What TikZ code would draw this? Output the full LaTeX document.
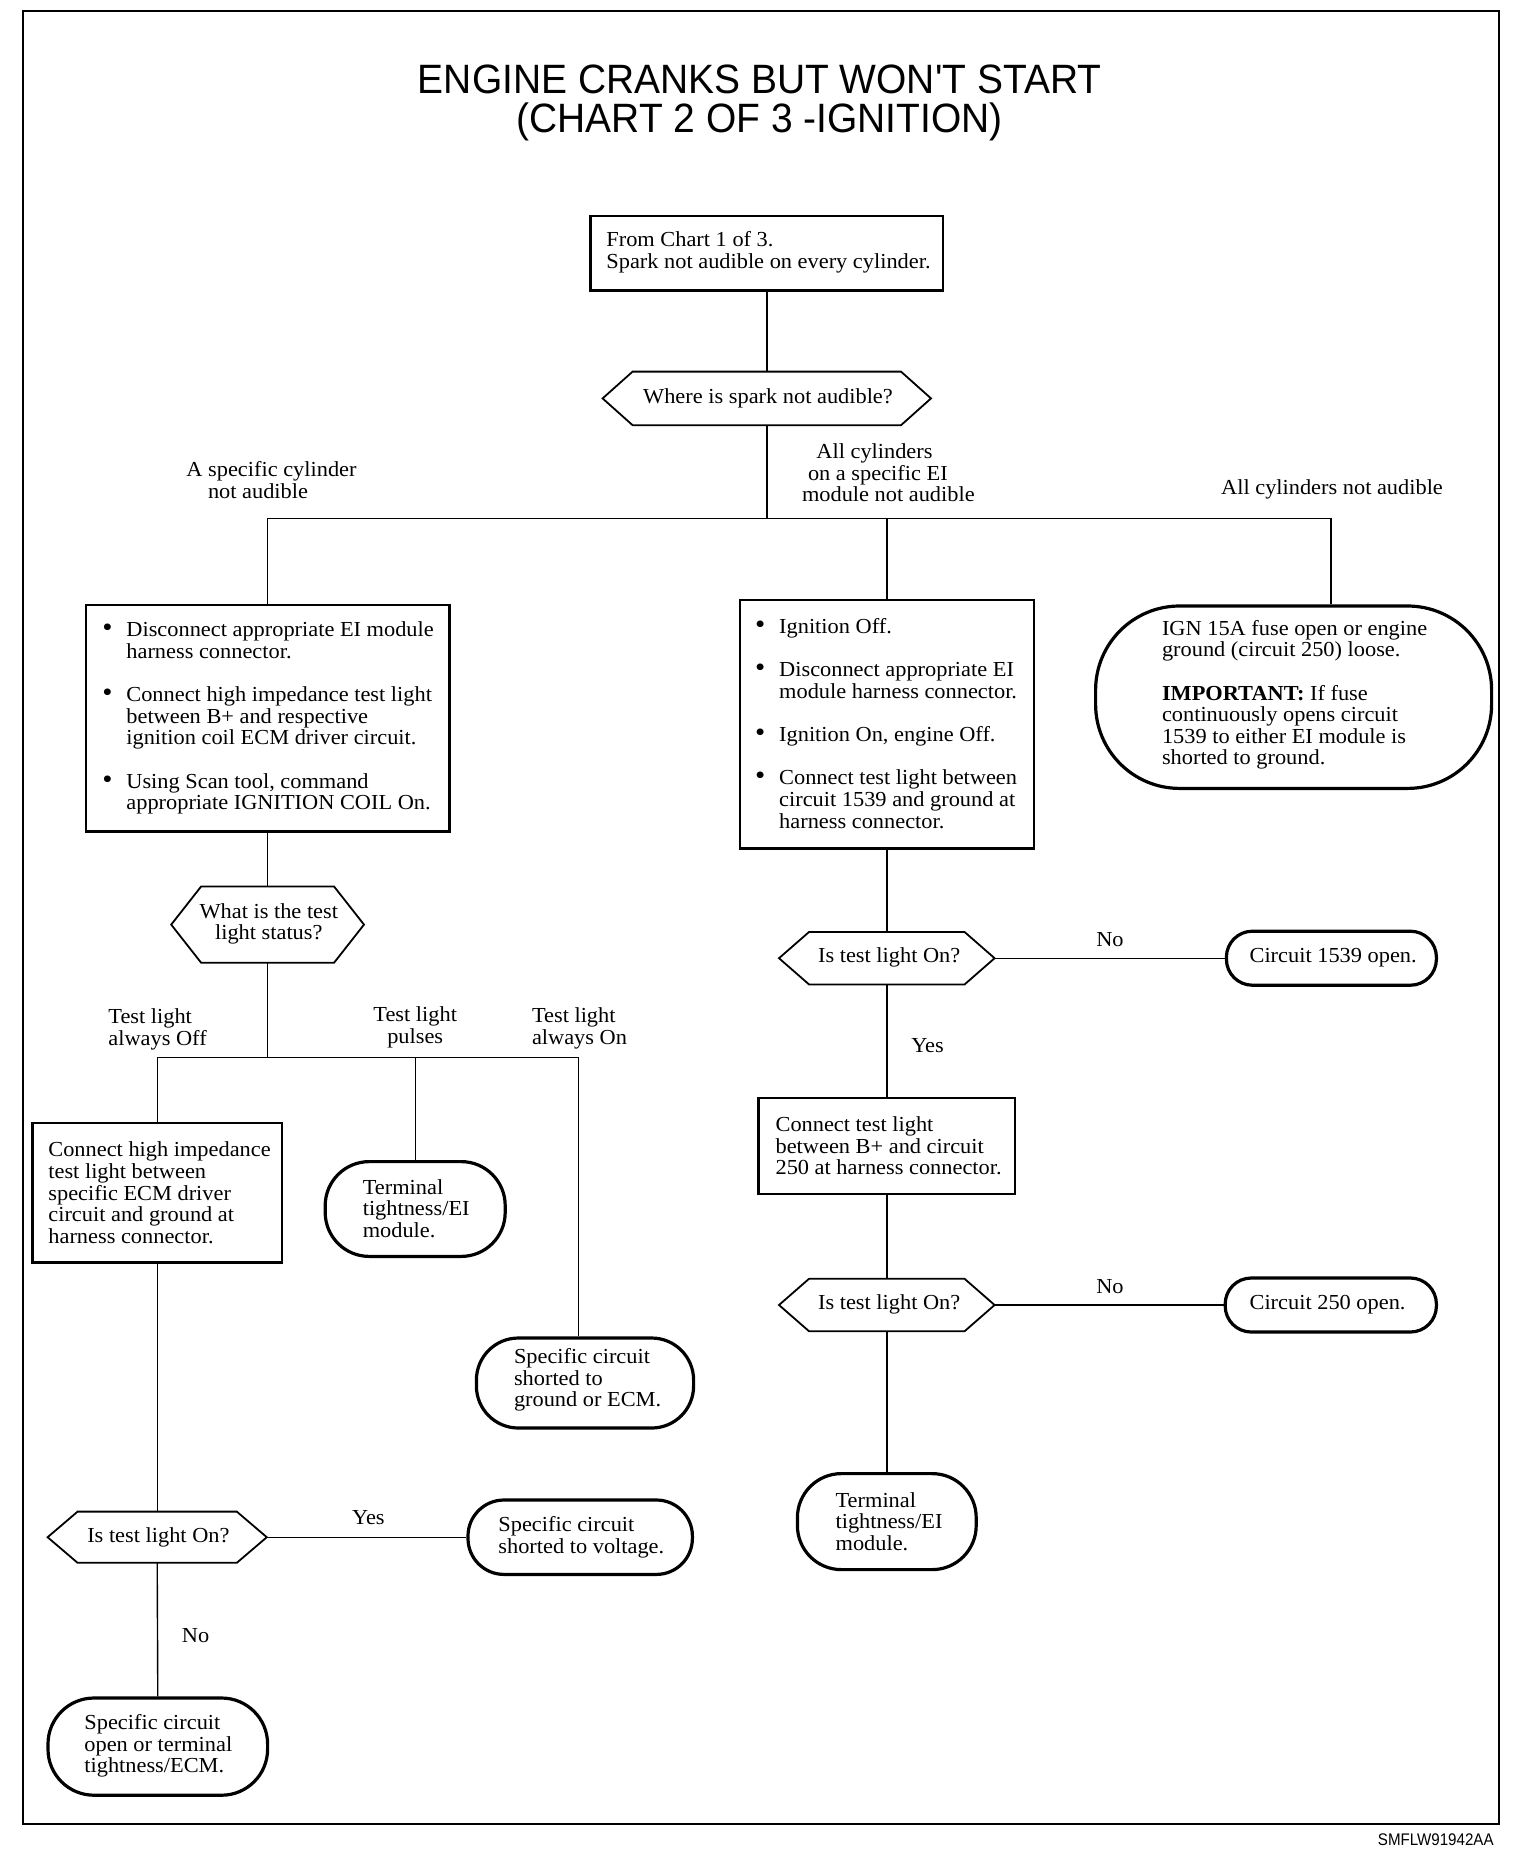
\documentclass[tikz,border=0pt]{standalone}
\usepackage{fontspec}
\setmainfont[FakeStretch=1.045]{Liberation Serif}
\newfontfamily\titlefont[FakeStretch=0.95]{Liberation Sans}
\newfontfamily\codefont[FakeStretch=0.9]{Liberation Sans}
\usetikzlibrary{calc}
\newcommand\bodyfont{\fontsize{10.7pt}{10.8pt}\selectfont}
\newcommand\bul{\makebox[12pt][l]{\scalebox{1.3}{\textbullet}}}
\newcommand\ind{\hspace*{12pt}}
\newcommand\hexdraw[2]{\draw[hexline] (#1.west) -- ([xshift=#2]#1.north west) -- ([xshift=-#2]#1.north east) -- (#1.east) -- ([xshift=-#2]#1.south east) -- ([xshift=#2]#1.south west) -- cycle;}
\tikzset{
 wh/.style 2 args={minimum width=#1*0.6pt, minimum height=#2*0.6pt},
 box/.style={draw, rectangle, line width=1.2pt, inner sep=0pt},
 term/.style={draw, rectangle, line width=1.6pt, inner sep=0pt, rounded corners=#1},
 hexbox/.style={rectangle, inner sep=0pt, draw=none},
 txt/.style={inner sep=0pt, align=left, font=\bodyfont, anchor=west},
 ctxt/.style={inner sep=0pt, align=center, font=\bodyfont},
 conn/.style={line width=0.7pt},
 hexline/.style={line width=0.9pt, line join=miter},
}
\begin{document}
\begin{tikzpicture}[x=0.6pt,y=-0.6pt]
\useasboundingbox (0,0) rectangle (1266.67,1548.33);
\draw[line width=0.9pt] (19,9) rectangle (1249,1520);

% title
\node[font=\titlefont\fontsize{20.5pt}{19.5pt}\selectfont, align=center, inner sep=0pt] (title) at (633,86) {ENGINE CRANKS BUT WON'T START\\(CHART 2 OF 3 -IGNITION)};
\node[font=\codefont\fontsize{8.4pt}{9pt}\selectfont, anchor=east, inner sep=0pt] (code) at (1245,1533) {SMFLW91942AA};

% top
\node[box, wh={294}{62}] (A) at (639,211) {};
\node[txt] (At) at (505,210) {From Chart 1 of 3.\\Spark not audible on every cylinder.};
\node[hexbox, wh={273}{44}] (D1) at (639,332) {};
\hexdraw{D1}{15pt}
\node[ctxt] (D1t) at (640,332) {Where is spark not audible?};

% left column
\node[box, wh={303}{189}] (B) at (223,598.5) {};
\node[txt] (Bt) at (85,598.5) {\bul Disconnect appropriate EI module\\\ind harness connector.\\[10.8pt]\bul Connect high impedance test light\\\ind between B+ and respective\\\ind ignition coil ECM driver circuit.\\[10.8pt]\bul Using Scan tool, command\\\ind appropriate IGNITION COIL On.};

\node[hexbox, wh={160}{63}] (D2) at (223,770.5) {};
\hexdraw{D2}{15pt}
\node[ctxt] (D2t) at (224,770) {What is the test\\light status?};

\node[box, wh={208}{116}] (E) at (131,994) {};
\node[txt] (Et) at (40,994) {Connect high impedance\\test light between\\specific ECM driver\\circuit and ground at\\harness connector.};

\node[term=22pt, wh={150}{79}] (T2) at (346,1007.5) {};
\node[txt] (T2t) at (302,1007) {Terminal\\tightness/EI\\module.};

\node[term=21pt, wh={181}{75}] (T3) at (487.5,1152.5) {};
\node[txt] (T3t) at (428,1150) {Specific circuit\\shorted to\\ground or ECM.};

\node[hexbox, wh={182}{42}] (D3) at (131,1281) {};
\hexdraw{D3}{15pt}
\node[ctxt] (D3t) at (132,1281) {Is test light On?};

\node[term=18pt, wh={187}{62}] (T4) at (483.5,1281) {};
\node[txt] (T4t) at (415,1281) {Specific circuit\\shorted to voltage.};

\node[term=23pt, wh={183}{81}] (T5) at (131.5,1455.5) {};
\node[txt] (T5t) at (70,1455) {Specific circuit\\open or terminal\\tightness/ECM.};

% right column
\node[box, wh={245}{207}] (C) at (739,603.5) {};
\node[txt] (Ct) at (629,603) {\bul Ignition Off.\\[10.8pt]\bul Disconnect appropriate EI\\\ind module harness connector.\\[10.8pt]\bul Ignition On, engine Off.\\[10.8pt]\bul Connect test light between\\\ind circuit 1539 and ground at\\\ind harness connector.};

\node[term=42pt, wh={330}{152}] (T1) at (1078,581) {};
\node[txt] (T1t) at (968,579) {IGN 15A fuse open or engine\\ground (circuit 250) loose.\\[10.8pt]\textbf{IMPORTANT:} If fuse\\continuously opens circuit\\1539 to either EI module is\\shorted to ground.};

\node[hexbox, wh={179}{43}] (D4) at (739,798.5) {};
\hexdraw{D4}{15pt}
\node[ctxt] (D4t) at (741,798) {Is test light On?};

\node[term=13pt, wh={175}{45}] (T6) at (1109.5,798.5) {};
\node[txt] (T6t) at (1041,798) {Circuit 1539 open.};

\node[box, wh={214}{80}] (F) at (739,955) {};
\node[txt] (Ft) at (646,955) {Connect test light\\between B+ and circuit\\250 at harness connector.};

\node[hexbox, wh={179}{43}] (D5) at (739,1087.5) {};
\hexdraw{D5}{15pt}
\node[ctxt] (D5t) at (741,1087) {Is test light On?};

\node[term=13pt, wh={176}{45}] (T7) at (1109,1087.5) {};
\node[txt] (T7t) at (1041,1087) {Circuit 250 open.};

\node[term=22pt, wh={149}{80}] (T8) at (739,1268) {};
\node[txt] (T8t) at (696,1268) {Terminal\\tightness/EI\\module.};

% connectors
\coordinate (busM) at (639,432);
\coordinate (busL) at (223,432);
\coordinate (busR) at (1109,432);
\draw[conn] (A.south) -- (D1.north);
\draw[conn] (D1.south) -- (busM);
\draw[conn] (B.north) -- (busL) -- (busR) -- (busR |- T1.north);
\draw[conn] (C.north) -- (C.north |- busM);
\draw[conn] (B.south) -- (D2.north);
\coordinate (b2L) at (131,881);
\coordinate (b2R) at (482,881);
\draw[conn] (D2.south) -- (D2.south |- b2L);
\draw[conn] (E.north) -- (b2L) -- (b2R) -- (b2R |- T3.north);
\draw[conn] (T2.north) -- (T2.north |- b2L);
\draw[conn] (E.south) -- (D3.north);
\draw[conn] (D3.east) -- (T4.west);
\draw[conn] (D3.south) -- (T5.north);
\draw[conn] (C.south) -- (D4.north);
\draw[conn] (D4.east) -- (T6.west);
\draw[conn] (D4.south) -- (F.north);
\draw[conn] (F.south) -- (D5.north);
\draw[conn] (D5.east) -- (T7.west);
\draw[conn] (D5.south) -- (T8.north);

% labels
\node[txt] (lA) at (155,400) {A specific cylinder\\\hspace*{10.8pt}not audible};
\node[txt] (lM) at (668,394) {\hspace*{7.2pt}All cylinders\\\hspace*{3pt}on a specific EI\\module not audible};
\node[ctxt] (lR) at (1110,408) {All cylinders not audible};
\node[txt] (lOff) at (90,858) {Test light\\always Off};
\node[ctxt] (lPul) at (346,856) {Test light\\pulses};
\node[txt] (lOn) at (443,857) {Test light\\always On};
\node[ctxt] (lY1) at (307,1265) {Yes};
\node[ctxt] (lN1) at (163,1363) {No};
\node[ctxt] (lN2) at (925,783) {No};
\node[ctxt] (lY2) at (773,871) {Yes};
\node[ctxt] (lN3) at (925,1072) {No};
\end{tikzpicture}
\end{document}
